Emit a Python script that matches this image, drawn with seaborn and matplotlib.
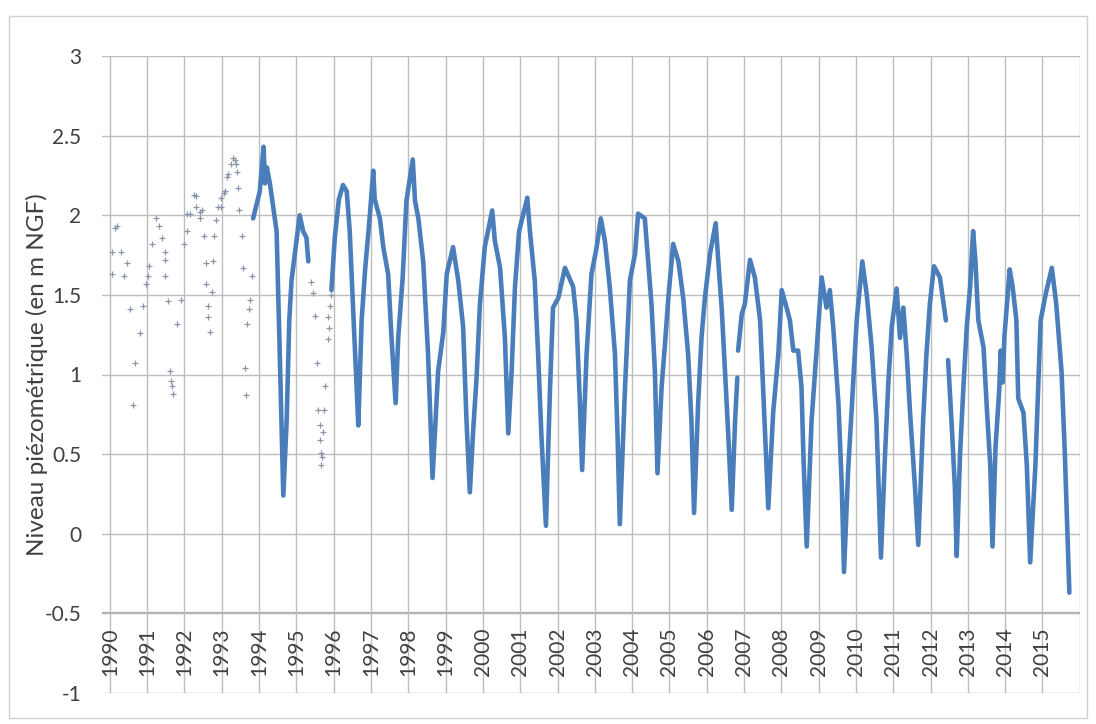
import pandas as pd
import seaborn as sns
import matplotlib.pyplot as plt
from matplotlib.patches import Rectangle

# isolated manual readings 1990-1995
sparse_years = [1990.05, 1990.05, 1990.13, 1990.20, 1990.31, 1990.38, 1990.46, 1990.54, 1990.61, 1990.67,
                1990.80, 1990.88, 1990.97, 1991.01, 1991.05, 1991.13, 1991.25, 1991.32, 1991.41, 1991.47,
                1991.49, 1991.49, 1991.55, 1991.61, 1991.65, 1991.66, 1991.70, 1991.81, 1991.90, 1991.99,
                1992.07, 1992.07, 1992.14, 1992.26, 1992.30, 1992.32, 1992.41, 1992.41, 1992.46, 1992.53,
                1992.57, 1992.59, 1992.62, 1992.64, 1992.68, 1992.74, 1992.77, 1992.79, 1992.84, 1992.90,
                1992.97, 1992.99, 1993.06, 1993.10, 1993.15, 1993.17, 1993.24, 1993.31, 1993.35, 1993.38,
                1993.40, 1993.44, 1993.47, 1993.53, 1993.56, 1993.62, 1993.66, 1993.69, 1993.73, 1993.75,
                1993.80,
                1995.39, 1995.45, 1995.51, 1995.54, 1995.58, 1995.63, 1995.64, 1995.66, 1995.67, 1995.68,
                1995.71, 1995.74, 1995.77, 1995.84, 1995.85, 1995.87, 1995.90, 1995.93]
sparse_levels = [1.77, 1.63, 1.92, 1.93, 1.77, 1.62, 1.70, 1.41, 0.81, 1.07,
                 1.26, 1.43, 1.57, 1.62, 1.68, 1.82, 1.98, 1.93, 1.86, 1.77,
                 1.72, 1.62, 1.46, 1.02, 0.96, 0.93, 0.88, 1.32, 1.47, 1.82,
                 1.90, 2.01, 2.01, 2.13, 2.05, 2.12, 2.02, 1.98, 2.03, 1.87,
                 1.70, 1.57, 1.43, 1.36, 1.27, 1.52, 1.71, 1.87, 1.97, 2.05,
                 2.05, 2.11, 2.14, 2.15, 2.24, 2.26, 2.32, 2.36, 2.35, 2.32,
                 2.27, 2.17, 2.03, 1.87, 1.67, 1.04, 0.87, 1.32, 1.41, 1.47,
                 1.62,
                 1.58, 1.51, 1.37, 1.07, 0.78, 0.68, 0.59, 0.51, 0.43, 0.48,
                 0.64, 0.78, 0.93, 1.22, 1.36, 1.29, 1.43, 1.50]

# continuous recorder, one list per uninterrupted period
seg1_years = [1993.84, 1994.02, 1994.12, 1994.16, 1994.21, 1994.29, 1994.38, 1994.47, 1994.54, 1994.65,
              1994.74, 1994.81, 1994.87, 1994.96, 1995.09, 1995.18, 1995.27, 1995.32]
seg1_levels = [1.98, 2.15, 2.43, 2.20, 2.30, 2.20, 2.05, 1.90, 1.27, 0.24,
               0.71, 1.34, 1.59, 1.76, 2.00, 1.90, 1.86, 1.71]

seg2_years = [1995.94, 1996.03, 1996.14, 1996.25, 1996.35, 1996.43, 1996.52, 1996.60, 1996.66, 1996.75,
              1996.84, 1996.97, 1997.06, 1997.10, 1997.24, 1997.33, 1997.46, 1997.55, 1997.66, 1997.73,
              1997.85, 1997.95, 1998.12, 1998.18, 1998.27, 1998.40, 1998.53, 1998.65, 1998.80, 1998.94,
              1999.03, 1999.20, 1999.34, 1999.47, 1999.56, 1999.65, 1999.74, 1999.83, 1999.92, 2000.05,
              2000.25, 2000.32, 2000.46, 2000.59, 2000.68, 2000.77, 2000.86, 2000.97, 2001.19, 2001.26,
              2001.39, 2001.48, 2001.57, 2001.69, 2001.80, 2001.88, 2002.02, 2002.20, 2002.42, 2002.51,
              2002.60, 2002.66, 2002.78, 2002.91, 2003.05, 2003.16, 2003.27, 2003.40, 2003.54, 2003.61,
              2003.67, 2003.81, 2003.94, 2004.08, 2004.16, 2004.34, 2004.43, 2004.52, 2004.61, 2004.68,
              2004.79, 2004.88, 2004.97, 2005.10, 2005.24, 2005.37, 2005.50, 2005.59, 2005.66, 2005.77,
              2005.86, 2005.95, 2006.09, 2006.24, 2006.31, 2006.40, 2006.49, 2006.58, 2006.67, 2006.76,
              2006.82]
seg2_levels = [1.53, 1.86, 2.10, 2.19, 2.15, 1.90, 1.42, 1.00, 0.68, 1.34,
               1.65, 2.00, 2.28, 2.10, 1.98, 1.80, 1.63, 1.23, 0.82, 1.23,
               1.61, 2.09, 2.35, 2.09, 1.98, 1.71, 1.13, 0.35, 1.02, 1.27,
               1.63, 1.80, 1.59, 1.30, 0.71, 0.26, 0.65, 0.98, 1.44, 1.80,
               2.03, 1.84, 1.67, 1.23, 0.63, 1.02, 1.55, 1.90, 2.11, 1.90,
               1.59, 1.13, 0.61, 0.05, 0.92, 1.42, 1.48, 1.67, 1.55, 1.34,
               0.82, 0.40, 1.13, 1.63, 1.80, 1.98, 1.84, 1.55, 1.13, 0.61,
               0.06, 0.92, 1.59, 1.76, 2.01, 1.98, 1.71, 1.44, 1.02, 0.38,
               0.92, 1.19, 1.48, 1.82, 1.71, 1.48, 1.13, 0.71, 0.13, 0.82,
               1.23, 1.48, 1.76, 1.95, 1.71, 1.42, 1.02, 0.61, 0.15, 0.71,
               0.98]

seg3_years = [2006.84, 2006.94, 2007.02, 2007.16, 2007.29, 2007.43, 2007.51, 2007.65, 2007.78, 2007.92,
              2008.01, 2008.14, 2008.23, 2008.32, 2008.45, 2008.54, 2008.59, 2008.68, 2008.81, 2008.95,
              2009.08, 2009.21, 2009.30, 2009.39, 2009.53, 2009.62, 2009.68, 2009.79, 2009.88, 2010.02,
              2010.17, 2010.29, 2010.42, 2010.55, 2010.67, 2010.78, 2010.87, 2010.96, 2011.09, 2011.18,
              2011.27, 2011.36, 2011.45, 2011.58, 2011.67, 2011.80, 2011.89, 2011.98, 2012.09, 2012.25,
              2012.34, 2012.41]
seg3_levels = [1.15, 1.38, 1.44, 1.72, 1.61, 1.34, 0.92, 0.16, 0.76, 1.13,
               1.53, 1.42, 1.34, 1.15, 1.15, 0.92, 0.50, -0.08, 0.71, 1.17,
               1.61, 1.42, 1.53, 1.30, 0.82, 0.30, -0.24, 0.40, 0.76, 1.34,
               1.71, 1.50, 1.17, 0.71, -0.15, 0.50, 0.96, 1.30, 1.54, 1.23,
               1.42, 1.13, 0.76, 0.30, -0.07, 0.71, 1.13, 1.44, 1.68, 1.61,
               1.46, 1.34]

seg4_years = [2012.47, 2012.56, 2012.65, 2012.70, 2012.79, 2012.88, 2012.97, 2013.06, 2013.14, 2013.20,
              2013.28, 2013.42, 2013.51, 2013.60, 2013.66, 2013.74, 2013.84, 2013.88, 2013.93, 2013.98,
              2014.07, 2014.12, 2014.20, 2014.30, 2014.35, 2014.49, 2014.58, 2014.67, 2014.81, 2014.90,
              2014.95, 2015.09, 2015.25, 2015.37, 2015.51, 2015.60, 2015.72]
seg4_levels = [1.09, 0.71, 0.30, -0.14, 0.50, 0.92, 1.30, 1.55, 1.90, 1.72,
               1.34, 1.17, 0.78, 0.43, -0.08, 0.54, 0.90, 1.15, 0.95, 1.24,
               1.51, 1.66, 1.55, 1.34, 0.85, 0.76, 0.43, -0.18, 0.43, 1.02,
               1.34, 1.51, 1.67, 1.44, 1.02, 0.50, -0.37]

year_ticks = list(range(1990, 2016))


def main():
    sparse = pd.DataFrame({'annee': sparse_years, 'niveau': sparse_levels})
    segs = [(seg1_years, seg1_levels), (seg2_years, seg2_levels),
            (seg3_years, seg3_levels), (seg4_years, seg4_levels)]
    dense = pd.concat([pd.DataFrame({'annee': x, 'niveau': y, 'seg': i})
                       for i, (x, y) in enumerate(segs)], ignore_index=True)

    sns.set_style('white')
    plt.rcParams['font.family'] = ['Lato', 'DejaVu Sans']

    fig = plt.figure(figsize=(10.96, 7.24), dpi=100)
    ax = fig.add_axes([102 / 1096, 1 - 693 / 724, 977.8 / 1096, 637 / 724])

    blue = '#4A7EBB'
    sns.lineplot(data=dense, x='annee', y='niveau', units='seg', estimator=None,
                 sort=False, color=blue, linewidth=3.3, solid_joinstyle='round',
                 solid_capstyle='round', ax=ax)
    sns.scatterplot(data=sparse, x='annee', y='niveau', marker='+', s=16,
                    color='#8a96aa', linewidth=0.9, ax=ax)

    ax.set_xlim(1989.79, 2016.0)
    ax.set_ylim(-1, 3)
    ax.set_xticks(year_ticks + [2016])
    ax.set_xticklabels([])
    ax.set_yticks([-1, -0.5, 0, 0.5, 1, 1.5, 2, 2.5, 3])
    ax.set_yticklabels(['-1', '-0.5', '0', '0.5', '1', '1.5', '2', '2.5', '3'])
    ax.tick_params(axis='y', length=0, pad=15, labelsize=15, labelcolor='#404040')
    ax.tick_params(axis='x', length=0)
    ax.grid(True, color='#bdbdbd', linewidth=1.0)
    ax.set_axisbelow(True)
    for s in ax.spines.values():
        s.set_visible(False)
    ax.axhline(-0.5, color='#a6a6a6', linewidth=1.6, zorder=0.5)

    for yr in year_ticks:
        ax.text(yr, -0.59, str(yr), rotation=90, ha='center', va='top',
                fontsize=15, color='#404040')

    ax.set_xlabel('')
    ax.set_ylabel('Niveau piézométrique (en m NGF)', fontsize=17.5, color='#404040')
    ax.yaxis.set_label_coords(-54 / 977.8, 0.5)

    fig.patches.append(Rectangle((9 / 1096, 1 - 718 / 724), 1078 / 1096, 702 / 724,
                                 transform=fig.transFigure, fill=False,
                                 edgecolor='#d0d0d0', linewidth=1.0))

    fig.savefig('out.png', dpi=100)


main()
